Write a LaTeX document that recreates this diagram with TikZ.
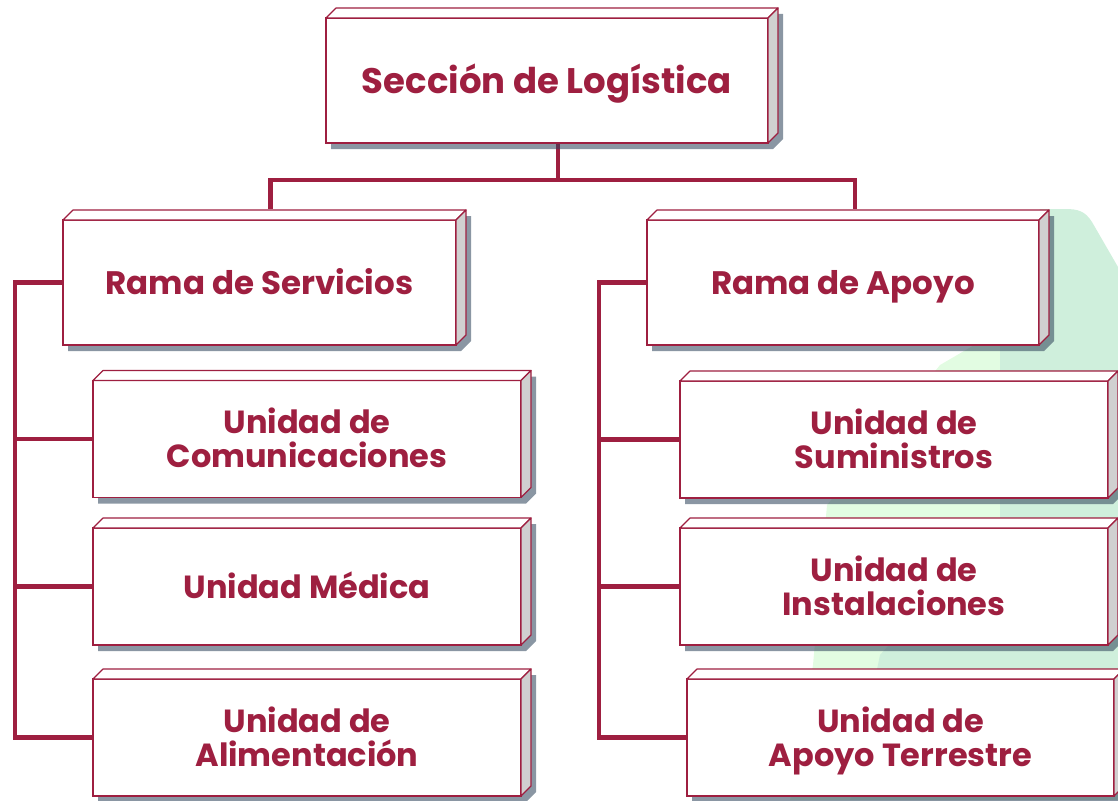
\documentclass[tikz,border=0pt]{standalone}
\usepackage{fontspec}
\setmainfont{Poppins}
\usepackage{tikz}
\usetikzlibrary{positioning}

\definecolor{guinda}{RGB}{158,31,64}
\definecolor{sidegray}{RGB}{208,208,208}
\definecolor{shadowblue}{RGB}{47,68,91}
\definecolor{mint}{RGB}{207,239,220}
\definecolor{palemint}{RGB}{226,252,226}

\pgfdeclarelayer{background}
\pgfdeclarelayer{shadows}
\pgfsetlayers{background,shadows,main}

\tikzset{
    unitbox/.style={draw=guinda, line width=1.6pt, fill=white, text=guinda, align=center,
        inner sep=0pt, outer sep=0pt, minimum width=428, minimum height=117,
        font=\bfseries\fontsize{32}{34}\selectfont,
        execute at begin node={\rule{0pt}{1em}}},
    oneline/.style={execute at end node={\rule[-0.27em]{0pt}{0.27em}}},
    twoline/.style={execute at end node={\rule[-0.08em]{0pt}{0.08em}}},
    branchbox/.style={unitbox, oneline, minimum width=393, minimum height=125,
        font=\bfseries\fontsize{32.5}{35}\selectfont},
    link/.style={draw=guinda, line width=4.5pt},
}

\begin{document}
\begin{tikzpicture}[x=1pt, y=-1pt]

    \useasboundingbox (0,0) rectangle (1118,800);
    \clip (0,0) rectangle (1118,800);
    \pgfmathsetmacro{\depth}{10}

    % green backdrop on the right
    \begin{pgfonlayer}{background}
        \path[fill=palemint] (940,365) -- (1000,330) -- (1000,520) -- (880,660) -- (860,800)
            -- (790,800) -- (813,665) -- (827,505) -- cycle;
        \path[fill=mint] (1118,267) -- (1092,222) .. controls (1085,211) and (1078,209) .. (1065,209)
            -- (1040,209) -- (1000,345) -- (1000,520) -- (880,655) -- (850,800) -- (1118,800) -- cycle;
    \end{pgfonlayer}

    % the boxes
    \node[unitbox, oneline, minimum width=442, minimum height=125, font=\bfseries\fontsize{35.5}{38}\selectfont]
        (seccion) at (547,80.5) {Sección de Logística};
    \node[branchbox] (servicios) at (259.5,282.5) {Rama de Servicios};
    \node[branchbox, minimum width=392] (apoyo) at (843,282.5) {Rama de Apoyo};
    \node[unitbox, twoline] (comunic) at (307,439) {Unidad de\\Comunicaciones};
    \node[unitbox, oneline] (medica) at (307,586.5) {Unidad Médica};
    \node[unitbox, twoline] (aliment) at (307,737.5) {Unidad de\\Alimentación};
    \node[unitbox, twoline] (sumin) at (894,439.5) {Unidad de\\Suministros};
    \node[unitbox, twoline] (instal) at (894,586.5) {Unidad de\\Instalaciones};
    \node[unitbox, twoline, minimum width=427] (terrestre) at (900.5,737.5) {Unidad de\\\smash{Apoyo Terrestre}};

    % top face, side face and drop shadow
    \foreach \n in {seccion,servicios,apoyo,comunic,medica,aliment,sumin,instal,terrestre} {
        \path[draw=guinda, line width=1.2pt, fill=white, line join=round]
            (\n.north west) -- ++(\depth,-\depth) -- ([shift={(\depth,-\depth)}]\n.north east)
            -- (\n.north east) -- cycle;
        \path[draw=guinda, line width=1.2pt, fill=sidegray, line join=round]
            (\n.north east) -- ++(\depth,-\depth) -- ([shift={(\depth,-\depth)}]\n.south east)
            -- (\n.south east) -- cycle;
        \begin{pgfonlayer}{shadows}
            \path[fill=shadowblue, fill opacity=0.56]
                ([shift={(5,6)}]\n.south west) -- ([shift={(5,6)}]\n.north west)
                -- ([shift={(15,-4)}]\n.north west) -- ([shift={(15,-4)}]\n.north east)
                -- ([shift={(15,-4)}]\n.south east) -- ([shift={(5,6)}]\n.south east) -- cycle;
        \end{pgfonlayer}
    }

    % connectors
    \begin{pgfonlayer}{background}
        \path[link] ([xshift=11]seccion.south) -- ++(0,37) coordinate (hub);
        \path[link] (hub) -| ([shift={(11,-11)}]servicios.north);
        \path[link] (hub) -| ([shift={(12,-11)}]apoyo.north);

        \path[link] (servicios.west) -- ++(-48,0) coordinate (lt) |- (aliment.west);
        \path[link] (lt |- comunic.west) -- (comunic.west);
        \path[link] (lt |- medica.west) -- (medica.west);

        \path[link] (apoyo.west) -- ++(-48,0) coordinate (rt) |- (terrestre.west);
        \path[link] (rt |- sumin.west) -- (sumin.west);
        \path[link] (rt |- instal.west) -- (instal.west);
    \end{pgfonlayer}

\end{tikzpicture}
\end{document}
